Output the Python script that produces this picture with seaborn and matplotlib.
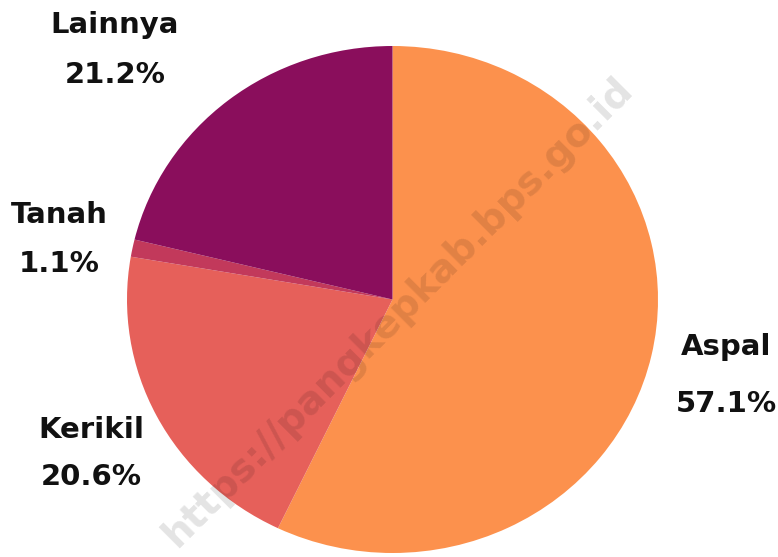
import matplotlib
matplotlib.use("Agg")
import matplotlib.pyplot as plt
import seaborn as sns

# data
labels = ["Aspal", "Kerikil", "Tanah", "Lainnya"]
shares = [57.1, 20.6, 1.1, 21.2]
colors = ["#FC914D", "#E6605A", "#C2395B", "#8A0E5C"]

sns.set_theme(style="white")
plt.rcParams['font.family'] = ['DejaVu Sans']

W, H = 778, 557
fig = plt.figure(figsize=(W / 100, H / 100), dpi=100)
ax = fig.add_axes([0, 0, 1, 1])

ax.pie(shares, colors=colors, startangle=90, counterclock=False,
       wedgeprops=dict(linewidth=0))

# the reference pie is slightly wider than tall
cx, cy, rx, ry = 392.5, 299.5, 265.5, 253.5
ax.set_aspect('auto')
xmin = -cx / rx
ax.set_xlim(xmin, xmin + W / rx)
ymin = -(H - cy) / ry
ax.set_ylim(ymin, ymin + H / ry)
ax.axis('off')

# label positions in pixels (x centre, baseline from top)
label_pos = {
    "Aspal": (726, 355, 412),
    "Kerikil": (91, 438, 485),
    "Tanah": (59, 223, 272),
    "Lainnya": (115, 33, 83),
}
for lab, val in zip(labels, shares):
    x, y1, y2 = label_pos[lab]
    fig.text(x / W, 1 - y1 / H, lab, ha='center', va='baseline',
             fontsize=21, fontweight='bold', color='#111111')
    fig.text(x / W, 1 - y2 / H, f"{val:.1f}%", ha='center', va='baseline',
             fontsize=21, fontweight='bold', color='#111111')

# watermark
fig.text(398 / W, 1 - 312 / H, "https://pangkepkab.bps.go.id", rotation=45,
         ha='center', va='center', fontsize=28, fontweight='bold',
         color='black', alpha=0.11)

fig.savefig("out.png", dpi=100)
